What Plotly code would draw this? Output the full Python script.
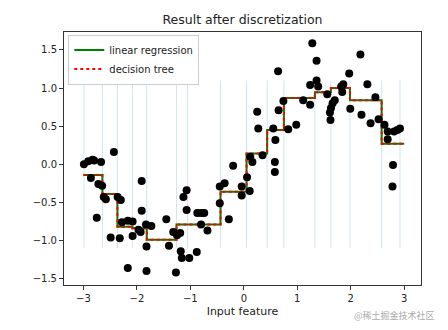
import plotly.graph_objects as go

# Sample points (input feature, target)
x_points = [
    -2.99, -2.91, -2.83, -2.80, -2.67, -2.43, -2.86, -2.72, -2.65, -2.62,
    -2.58, -2.75, -2.36, -2.30, -2.49, -2.32, -2.28, -2.17, -2.08, -2.08,
    -1.97, -1.93, -1.91, -1.91, -1.83, -1.73, -1.82, -2.17, -1.82, -1.45,
    -1.40, -1.32, -1.25, -1.19, -1.27, -1.18, -1.16, -1.02, -0.88, -1.13,
    -1.07, -1.07, -0.87, -0.80, -0.74, -0.80, -0.68, -0.45, -0.36, -0.45,
    -0.28, -0.20, -0.04, -0.04, 0.06, 0.11, 0.12, 0.16, 0.35, 0.25,
    0.27, 0.55, 0.59, 0.58, 0.58, 0.64, 0.65, 0.74, 0.83, 0.98,
    1.11, 1.24, 1.24, 1.28, 1.36, 1.36, 1.39, 1.56, 1.66, 1.63,
    1.61, 1.62, 1.70, 1.82, 1.86, 1.84, 1.97, 1.99, 2.18, 2.31,
    2.20, 2.37, 2.46, 2.52, 2.63, 2.69, 2.69, 2.81, 2.92, 2.87,
    2.79, 2.78,
]
y_points = [
    0.00, 0.04, 0.06, 0.05, 0.03, 0.16, -0.18, -0.26, -0.28, -0.43,
    -0.46, -0.70, -0.43, -0.47, -0.96, -0.97, -0.76, -0.74, -0.75, -0.94,
    -0.86, -0.89, -0.22, -0.61, -0.79, -0.81, -1.08, -1.36, -1.40, -0.72,
    -1.07, -0.89, -0.93, -0.90, -1.42, -1.14, -1.23, -1.23, -1.15, -0.43,
    -0.34, -0.60, -0.64, -0.64, -0.64, -0.79, -0.87, -0.29, -0.25, -0.51,
    -0.72, -0.02, -0.29, -0.41, -0.17, -0.35, 0.10, 0.03, 0.12, 0.69,
    0.47, 0.47, 0.32, 0.03, -0.10, 1.22, 0.71, 0.83, 0.46, 0.52,
    0.84, 0.78, 1.04, 1.59, 1.36, 1.10, 1.02, 0.92, 0.80, 0.74,
    0.68, 0.58, 0.84, 1.02, 1.05, 0.95, 1.19, 0.73, 1.44, 1.05,
    0.65, 0.54, 0.88, 0.59, 0.52, 0.43, 0.33, 0.43, 0.47, 0.45,
    -0.01, -0.29,
]

# Bin edges of the discretizer and the fitted value in each bin
bin_edges = [
    -2.99, -2.645, -2.364, -2.083, -1.815, -1.260, -1.054, -0.436,
    0.051, 0.436, 0.749, 1.329, 1.628, 1.984, 2.577, 2.920,
]
bin_values = [
    -0.14, -0.39, -0.82, -0.84, -0.99, -0.79, -0.79, -0.36,
    0.14, 0.45, 0.87, 0.945, 1.00, 0.84, 0.27,
]
line_start, line_end = -3.0, 3.0
vline_low, vline_high = -1.1, 1.1

x_ticks = [-3, -2, -1, 0, 1, 2, 3]
x_tick_text = ["\u22123", "\u22122", "\u22121", "0", "1", "2", "3"]
y_ticks = [-1.5, -1.0, -0.5, 0.0, 0.5, 1.0, 1.5]
y_tick_text = ["\u22121.5", "\u22121.0", "\u22120.5", "0.0", "0.5", "1.0", "1.5"]

# Step line over the plotted range
step_x = [line_start] + bin_edges[1:-1] + [line_end]
step_y = bin_values + [bin_values[-1]]

# Vertical bin boundary markers
vx, vy = [], []
for e in bin_edges:
    vx += [e, e, None]
    vy += [vline_low, vline_high, None]

font = "DejaVu Sans, sans-serif"
fig = go.Figure()
fig.add_trace(go.Scatter(
    x=vx, y=vy, mode="lines", showlegend=False, hoverinfo="skip",
    line=dict(color="rgba(31,119,180,0.2)", width=1),
))
fig.add_trace(go.Scatter(
    x=step_x, y=step_y, mode="lines", name="linear regression",
    line=dict(color="green", width=2, shape="hv"),
))
fig.add_trace(go.Scatter(
    x=step_x, y=step_y, mode="lines", name="decision tree",
    line=dict(color="red", width=2, dash="dot", shape="hv"),
))
fig.add_trace(go.Scatter(
    x=x_points, y=y_points, mode="markers", showlegend=False,
    marker=dict(color="black", size=8),
))

axis_common = dict(
    showline=True, mirror=True, linecolor="#333", linewidth=1,
    ticks="outside", ticklen=4, tickcolor="#333", showgrid=False,
    zeroline=False, tickfont=dict(family=font, size=10, color="#222"),
)
fig.update_xaxes(range=[-3.363, 3.313], tickvals=x_ticks, ticktext=x_tick_text,
                 title=dict(text="Input feature", font=dict(family=font, size=11, color="#222"), standoff=4),
                 **axis_common)
fig.update_yaxes(range=[-1.584, 1.736], tickvals=y_ticks, ticktext=y_tick_text,
                 **axis_common)

fig.update_layout(
    width=448, height=330,
    margin=dict(l=64, r=27, t=32, b=45),
    plot_bgcolor="white", paper_bgcolor="white",
    title=dict(text="Result after discretization", x=0.5, xanchor="center",
               xref="paper", y=1 - 20 / 330, yanchor="middle",
               font=dict(family=font, size=12.5, color="#222")),
    legend=dict(x=0.012, y=0.99, xanchor="left", yanchor="top",
                bgcolor="rgba(255,255,255,0.85)", bordercolor="#ccc", borderwidth=1,
                font=dict(family=font, size=10, color="#222"),
                tracegroupgap=0, itemwidth=30),
    annotations=[dict(text="@稀土掘金技术社区", xref="paper", yref="paper",
                      x=1.045, y=-0.085, xanchor="right", yanchor="top", showarrow=False,
                      font=dict(family="Noto Sans CJK SC", size=9, color="#aaa"))],
)

fig.write_html("out.html")
